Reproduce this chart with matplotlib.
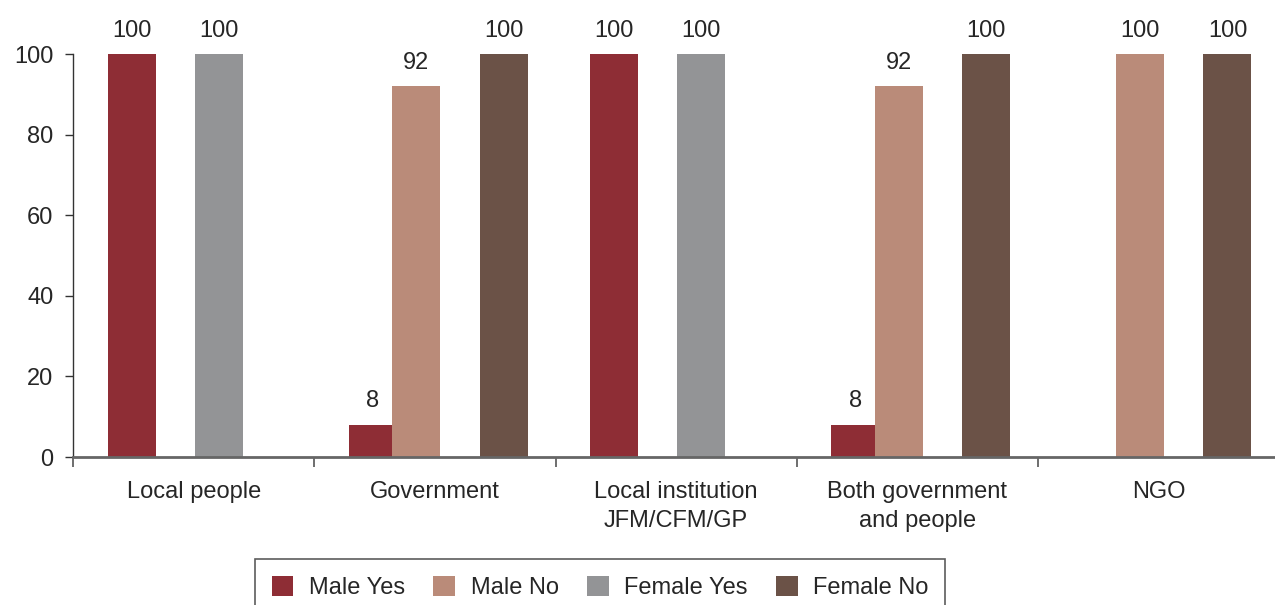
import numpy as np
import matplotlib.pyplot as plt

plt.rcParams['font.family'] = ['Liberation Sans', 'DejaVu Sans']

# data
categories = ['Local people', 'Government', 'Local institution\nJFM/CFM/GP',
              'Both government\nand people', 'NGO']
series_names = ['Male Yes', 'Male No', 'Female Yes', 'Female No']
male_yes = [100, 8, 100, 8, 0]
male_no = [0, 92, 0, 92, 100]
female_yes = [100, 0, 100, 0, 0]
female_no = [0, 100, 0, 100, 100]

colors = ['#8E2D35', '#BA8B79', '#939496', '#6B5247']
text_color = '#262626'
fs = 17

fig = plt.figure(figsize=(12.75, 6.05), dpi=100)
ax = fig.add_axes([0.0573, 0.2446, 0.946, 0.6661])

x = np.arange(len(categories))
slot = 0.181
width = 0.199
shift = 0.014

for i, (name, vals, c) in enumerate(zip(series_names,
                                         [male_yes, male_no, female_yes, female_no],
                                         colors)):
    pos = x + shift + (i - 1.5) * slot
    bars = ax.bar(pos, vals, width=width, color=c, linewidth=0, label=name)
    for b, v in zip(bars, vals):
        if v == 0:
            continue
        ax.annotate(f'{v}', (b.get_x() + b.get_width() / 2, v),
                    xytext=(0, 9), textcoords='offset points',
                    ha='center', va='bottom', fontsize=fs,
                    color=text_color, annotation_clip=False)

ax.set_xlim(-0.5, 4.5)
ax.set_ylim(0, 100)
ax.set_yticks(range(0, 101, 20))
ax.tick_params(axis='y', labelsize=fs, labelcolor=text_color, length=6,
               width=1, color='#333333', pad=8)

# category labels at centres, tick marks at the boundaries
ax.set_xticks(x)
ax.set_xticklabels(categories, fontsize=fs, color=text_color, linespacing=1.45)
ax.tick_params(axis='x', which='major', length=0, pad=17)
ax.set_xticks(np.arange(-0.5, 5, 1), minor=True)
ax.tick_params(axis='x', which='minor', length=7, width=1.2, color='#555555')

for s in ['top', 'right']:
    ax.spines[s].set_visible(False)
ax.spines['left'].set_color('#333333')
ax.spines['left'].set_linewidth(1)
ax.spines['bottom'].set_color('#666666')
ax.spines['bottom'].set_linewidth(2)

leg = fig.legend(loc='upper left', bbox_to_anchor=(255 / 1275, 1 - 559 / 605),
                 ncol=4, fontsize=fs, frameon=True, fancybox=False,
                 edgecolor='#333333', handlelength=0.93, handleheight=0.93,
                 handletextpad=0.65, columnspacing=1.2, borderpad=0.7,
                 borderaxespad=0, labelcolor=text_color)
leg.get_frame().set_linewidth(1.2)

fig.savefig('out.png', dpi=100)
